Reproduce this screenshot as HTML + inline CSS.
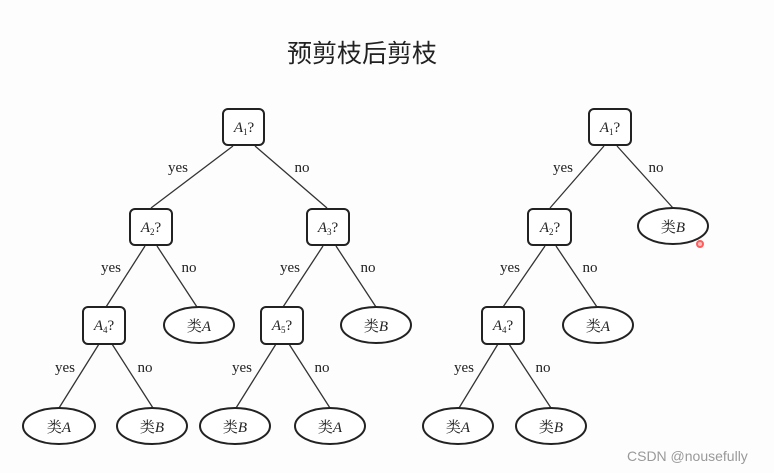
<!DOCTYPE html>
<html><head><meta charset="utf-8"><style>
html,body{margin:0;padding:0;background:#fff}
svg{display:block}
.t{font-family:"Liberation Serif","Noto Serif CJK SC",serif;font-size:15px;fill:#222}
.n{font-family:"Liberation Serif","Noto Serif CJK SC",serif;font-size:15px;fill:#222;text-anchor:middle}
.i{font-style:italic}
</style></head><body>
<svg width="774" height="473" viewBox="0 0 774 473" xmlns="http://www.w3.org/2000/svg">
<rect width="774" height="473" fill="#fdfdfd"/>
<text x="362" y="62" text-anchor="middle" font-family="'Liberation Sans','Noto Sans CJK SC',sans-serif" font-size="25" fill="#222">预剪枝后剪枝</text>
<g stroke="#333" stroke-width="1.3" fill="none">
<line x1="233" y1="146" x2="151" y2="208"/><line x1="255" y1="146" x2="327" y2="208"/>
<line x1="145" y1="246" x2="106" y2="307"/><line x1="157" y1="246" x2="197" y2="307"/>
<line x1="323" y1="246" x2="283" y2="307"/><line x1="336" y1="246" x2="376" y2="307"/>
<line x1="99" y1="344" x2="59" y2="408"/><line x1="112" y1="344" x2="153" y2="408"/>
<line x1="276" y1="344" x2="236" y2="408"/><line x1="289" y1="344" x2="330" y2="408"/>
<line x1="604" y1="146" x2="550" y2="208"/><line x1="617" y1="146" x2="673" y2="208"/>
<line x1="545" y1="246" x2="503" y2="307"/><line x1="556" y1="246" x2="597" y2="307"/>
<line x1="498" y1="344" x2="459" y2="408"/><line x1="509" y1="344" x2="551" y2="408"/>
</g>
<g stroke="#222" stroke-width="2" fill="#fff">
<rect x="223" y="109" width="41" height="36" rx="5"/>
<rect x="130" y="209" width="42" height="36" rx="5"/>
<rect x="307" y="209" width="42" height="36" rx="5"/>
<rect x="83" y="307" width="42" height="37" rx="5"/>
<rect x="261" y="307" width="42" height="37" rx="5"/>
<rect x="589" y="109" width="42" height="36" rx="5"/>
<rect x="528" y="209" width="43" height="36" rx="5"/>
<rect x="482" y="307" width="42" height="37" rx="5"/>
<ellipse cx="199" cy="325" rx="35" ry="18"/>
<ellipse cx="376" cy="325" rx="35" ry="18"/>
<ellipse cx="59" cy="426" rx="36" ry="18"/>
<ellipse cx="152" cy="426" rx="35" ry="18"/>
<ellipse cx="235" cy="426" rx="35" ry="18"/>
<ellipse cx="330" cy="426" rx="35" ry="18"/>
<ellipse cx="673" cy="226" rx="35" ry="18"/>
<ellipse cx="598" cy="325" rx="35" ry="18"/>
<ellipse cx="458" cy="426" rx="35" ry="18"/>
<ellipse cx="551" cy="426" rx="35" ry="18"/>
</g>
<g class="n">
<text x="244" y="132"><tspan class="i">A</tspan><tspan font-size="9" dy="3">1</tspan><tspan dy="-3">?</tspan></text>
<text x="151" y="232"><tspan class="i">A</tspan><tspan font-size="9" dy="3">2</tspan><tspan dy="-3">?</tspan></text>
<text x="328" y="232"><tspan class="i">A</tspan><tspan font-size="9" dy="3">3</tspan><tspan dy="-3">?</tspan></text>
<text x="104" y="330"><tspan class="i">A</tspan><tspan font-size="9" dy="3">4</tspan><tspan dy="-3">?</tspan></text>
<text x="282" y="330"><tspan class="i">A</tspan><tspan font-size="9" dy="3">5</tspan><tspan dy="-3">?</tspan></text>
<text x="610" y="132"><tspan class="i">A</tspan><tspan font-size="9" dy="3">1</tspan><tspan dy="-3">?</tspan></text>
<text x="550" y="232"><tspan class="i">A</tspan><tspan font-size="9" dy="3">2</tspan><tspan dy="-3">?</tspan></text>
<text x="503" y="330"><tspan class="i">A</tspan><tspan font-size="9" dy="3">4</tspan><tspan dy="-3">?</tspan></text>
<text x="199" y="331">类<tspan class="i">A</tspan></text>
<text x="376" y="331">类<tspan class="i">B</tspan></text>
<text x="59" y="432">类<tspan class="i">A</tspan></text>
<text x="152" y="432">类<tspan class="i">B</tspan></text>
<text x="235" y="432">类<tspan class="i">B</tspan></text>
<text x="330" y="432">类<tspan class="i">A</tspan></text>
<text x="673" y="232">类<tspan class="i">B</tspan></text>
<text x="598" y="331">类<tspan class="i">A</tspan></text>
<text x="458" y="432">类<tspan class="i">A</tspan></text>
<text x="551" y="432">类<tspan class="i">B</tspan></text>
</g>
<g class="n" font-size="14">
<text x="178" y="172">yes</text><text x="302" y="172">no</text>
<text x="111" y="272">yes</text><text x="189" y="272">no</text>
<text x="290" y="272">yes</text><text x="368" y="272">no</text>
<text x="65" y="372">yes</text><text x="145" y="372">no</text>
<text x="242" y="372">yes</text><text x="322" y="372">no</text>
<text x="563" y="172">yes</text><text x="656" y="172">no</text>
<text x="510" y="272">yes</text><text x="590" y="272">no</text>
<text x="464" y="372">yes</text><text x="543" y="372">no</text>
</g>
<circle cx="700" cy="244" r="4" fill="#f33" opacity="0.8"/>
<circle cx="700" cy="244" r="2" fill="#fff" opacity="0.6"/>
<text x="627" y="461" font-family="'Liberation Sans',sans-serif" font-size="14" fill="#999">CSDN @nousefully</text>
</svg>
</body></html>
